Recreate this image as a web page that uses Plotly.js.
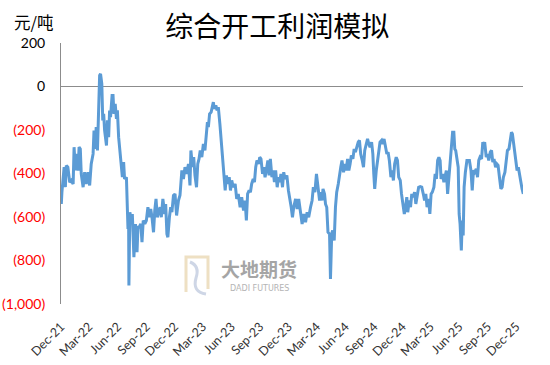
<!DOCTYPE html>
<html>
<head>
<meta charset="utf-8">
<script src="https://cdn.plot.ly/plotly-3.0.1.min.js"></script>
<style>html,body{margin:0;padding:0;background:#fff;}#chart{width:550px;height:365px;}</style>
</head>
<body>
<div id="chart"></div>
<script>
// ---- data (days since 2021-12-01, profit in 元/吨) ----
const startDate = '2021-12-01';
const endDate = '2025-12-23';
const dayOffset = [
1,3,10,14,17,22,28,33,39,42,46,49,55,58,62,65,71,76,81,87,92,97,103,106,110,113,117,121,124,127,131,134,137,140,146,149,153,156,159,164,167,170,174,178,181,185,189,194,197,201,204,210,212,215,217,218,221,226,229,234,239,244,247,251,256,260,264,269,274,279,284,288,292,297,301,305,309,314,318,322,327,333,336,340,343,348,352,356,361,366,
371,377,382,388,393,398,404,409,414,417,422,426,430,435,439,443,447,452,457,462,466,470,473,477,482,486,489,492,497,501,505,510,514,518,522,527,531,535,540,544,548,553,559,564,569,575,580,586,591,595,599,604,608,612,617,621,625,629,634,638,642,647,651,655,659,664,668,672,677,681,685,689,694,698,702,706,711,715,719,725,730,734,739,743,
747,753,758,763,769,774,779,785,790,795,801,806,810,815,820,824,830,834,838,841,846,849,853,857,862,865,869,872,877,881,885,890,894,898,902,907,911,915,920,924,928,932,937,941,945,949,954,958,962,967,971,975,979,984,988,992,997,1001,1004,1007,1012,1016,1020,1024,1029,1033,1037,1042,1046,1050,1054,1059,1063,1067,1071,1076,1080,1084,1089,1093,1097,1102,
1106,1110,1113,1118,1122,1126,1130,1135,1139,1143,1148,1153,1158,1164,1167,1171,1175,1180,1184,1188,1192,1197,1201,1205,1209,1213,1217,1220,1225,1229,1233,1237,1241,1245,1249,1253,1257,1261,1264,1267,1272,1275,1278,1281,1285,1288,1291,1294,1298,1303,1307,1311,1316,1320,1324,1328,1333,1337,1341,1345,1350,1354,1357,1360,1365,1369,1373,1378,1382,1386,1390,1395,1399,1403,1408,1412,1416,1420,1425,1429,1433,1438,1442,1446,1449,1453,1457,1461,1464,1468,1471,1474,1477,1480,1484
];
const profit = [
-540,-486,-371,-463,-363,-371,-440,-432,-448,-279,-386,-310,-386,-279,-287,-402,-463,-394,-448,-394,-455,-356,-310,-202,-287,-187,-294,-34,51,58,12,-156,-126,-202,-271,-156,-233,-110,-141,-41,-41,-126,-80,-149,-110,-233,-294,-340,-417,-348,-425,-417,-570,-655,-586,-915,-578,-616,-586,-785,-632,-762,-647,-647,-632,-716,-616,-632,-616,-555,-601,-563,-601,-670,-570,-517,-601,-578,-555,-601,-517,-586,-540,-678,-693,-601,-555,-578,-501,-494,
-593,-524,-500,-386,-425,-371,-402,-356,-455,-294,-371,-325,-409,-463,-356,-333,-294,-325,-264,-294,-210,-164,-187,-126,-118,-87,-72,-103,-87,-110,-95,-172,-248,-325,-409,-478,-409,-448,-417,-478,-432,-463,-448,-517,-494,-555,-509,-570,-524,-616,-494,-478,-486,-448,-425,-440,-371,-340,-356,-325,-333,-402,-371,-417,-386,-340,-409,-333,-417,-386,-440,-386,-463,-417,-440,-402,-463,-394,-425,-409,-478,-509,-555,-601,
-555,-517,-563,-517,-570,-632,-586,-624,-578,-601,-555,-524,-463,-486,-402,-463,-524,-486,-524,-471,-494,-540,-555,-670,-678,-885,-678,-662,-708,-555,-486,-448,-402,-371,-340,-394,-356,-386,-333,-386,-356,-317,-333,-287,-302,-279,-256,-248,-310,-340,-371,-294,-264,-241,-264,-279,-256,-310,-402,-471,-386,-340,-279,-256,-248,-264,-241,-287,-310,-302,-340,-417,-386,-432,-356,-325,-340,-417,-432,-494,-540,-586,
-555,-509,-578,-524,-555,-494,-509,-486,-540,-494,-463,-460,-463,-501,-524,-494,-555,-517,-586,-494,-486,-463,-402,-425,-340,-325,-340,-425,-402,-440,-409,-386,-494,-417,-325,-294,-210,-210,-287,-294,-356,-371,-586,-632,-754,-616,-685,-463,-394,-340,-340,-340,-386,-478,-386,-394,-379,-417,-340,-325,-333,-256,-271,-256,-325,-310,-340,-302,-294,-348,-333,-371,-356,-363,-425,-471,-463,-417,-394,-325,-294,-287,-256,-210,-218,-271,-325,-371,-386,-371,-402,-409,-448,-471,-494
];
const yTickVals = [200, 0, -200, -400, -600, -800, -1000];
const yTickLabels = ['200', '0', '(200)', '(400)', '(600)', '(800)', '(1,000)'];
const titleText = '综合开工利润模拟';
const unitText = '元/吨';
const brandCn = '大地期货';
const brandEn = 'DADI FUTURES';

// ---- build ----
const base = Date.parse(startDate + 'T00:00:00Z');
const dates = dayOffset.map(d => new Date(base + d * 86400000).toISOString().slice(0, 10));
const yTickText = yTickVals.map((v, i) => v < 0
  ? '<span style="color:#ff0000">' + yTickLabels[i] + '</span>'
  : yTickLabels[i]);

const W = 550, H = 365, L = 61, R = 27, T = 43, B = 61;
const pw = W - L - R, ph = H - T - B;
const px = x => (x - L) / pw;
const py = y => (H - B - y) / ph;

const trace = {
  x: dates, y: profit, type: 'scatter', mode: 'lines',
  line: {color: '#5b9bd5', width: 3, shape: 'linear'},
  hoverinfo: 'skip'
};

const layout = {
  width: W, height: H,
  margin: {l: L, r: R, t: T, b: B, pad: 0},
  paper_bgcolor: '#ffffff', plot_bgcolor: '#ffffff',
  showlegend: false,
  font: {family: 'Lato, "Noto Sans CJK SC", sans-serif', size: 13, color: '#404040'},
  title: {
    text: titleText, x: 0.504, xref: 'container', xanchor: 'center',
    y: 1 - 27 / H, yref: 'container', yanchor: 'middle',
    font: {family: '"Noto Sans CJK SC", sans-serif', size: 28, color: '#000000'}
  },
  xaxis: {
    type: 'date', range: [startDate, endDate],
    tick0: startDate, dtick: 'M3', tickformat: '%b-%y', tickangle: -45,
    showgrid: false, zeroline: false, showline: false, ticks: '',
    ticklabelstandoff: 12,
    tickfont: {family: 'Lato, sans-serif', size: 12.5, color: '#333333'}
  },
  yaxis: {
    range: [-1000, 200], tickvals: yTickVals, ticktext: yTickText,
    showgrid: false, zeroline: true, zerolinecolor: '#8c8c8c', zerolinewidth: 1,
    showline: true, linecolor: '#8c8c8c', linewidth: 1, ticks: '',
    ticklabelstandoff: 12,
    tickfont: {family: 'Lato, sans-serif', size: 14, color: '#000000'}
  },
  annotations: [
    {text: unitText, xref: 'paper', yref: 'paper', x: px(33), y: py(22),
     xanchor: 'center', yanchor: 'middle', showarrow: false,
     font: {family: '"Noto Sans CJK SC", sans-serif', size: 16.5, color: '#000000'}},
    {text: brandCn, xref: 'paper', yref: 'paper', x: px(259), y: py(268),
     xanchor: 'center', yanchor: 'middle', showarrow: false,
     font: {family: '"Noto Sans CJK SC", sans-serif', size: 19, color: '#969696', weight: 600}, opacity: 0.85},
    {text: brandEn, xref: 'paper', yref: 'paper', x: px(259), y: py(288.5),
     xanchor: 'center', yanchor: 'middle', showarrow: false,
     font: {family: '"DejaVu Sans", sans-serif', size: 8, color: '#a8a8a8'}, opacity: 0.85}
  ],
  shapes: [
    {type: 'path', xref: 'paper', yref: 'paper', layer: 'below',
     path: 'M' + px(186) + ',' + py(292) + ' L' + px(186) + ',' + py(257) + ' L' + px(208) + ',' + py(257) + ' L' + px(208) + ',' + py(289),
     line: {color: '#ead9b5', width: 3}, opacity: 0.8},
    {type: 'path', xref: 'paper', yref: 'paper', layer: 'below',
     path: 'M' + px(190) + ',' + py(262) + ' Q' + px(200) + ',' + py(266) + ' ' + px(196) + ',' + py(278) + ' Q' + px(192) + ',' + py(292) + ' ' + px(206) + ',' + py(294),
     line: {color: '#c3cde0', width: 3}, opacity: 0.8}
  ]
};

Plotly.newPlot('chart', [trace], layout, {staticPlot: true, displayModeBar: false});
</script>
</body>
</html>
